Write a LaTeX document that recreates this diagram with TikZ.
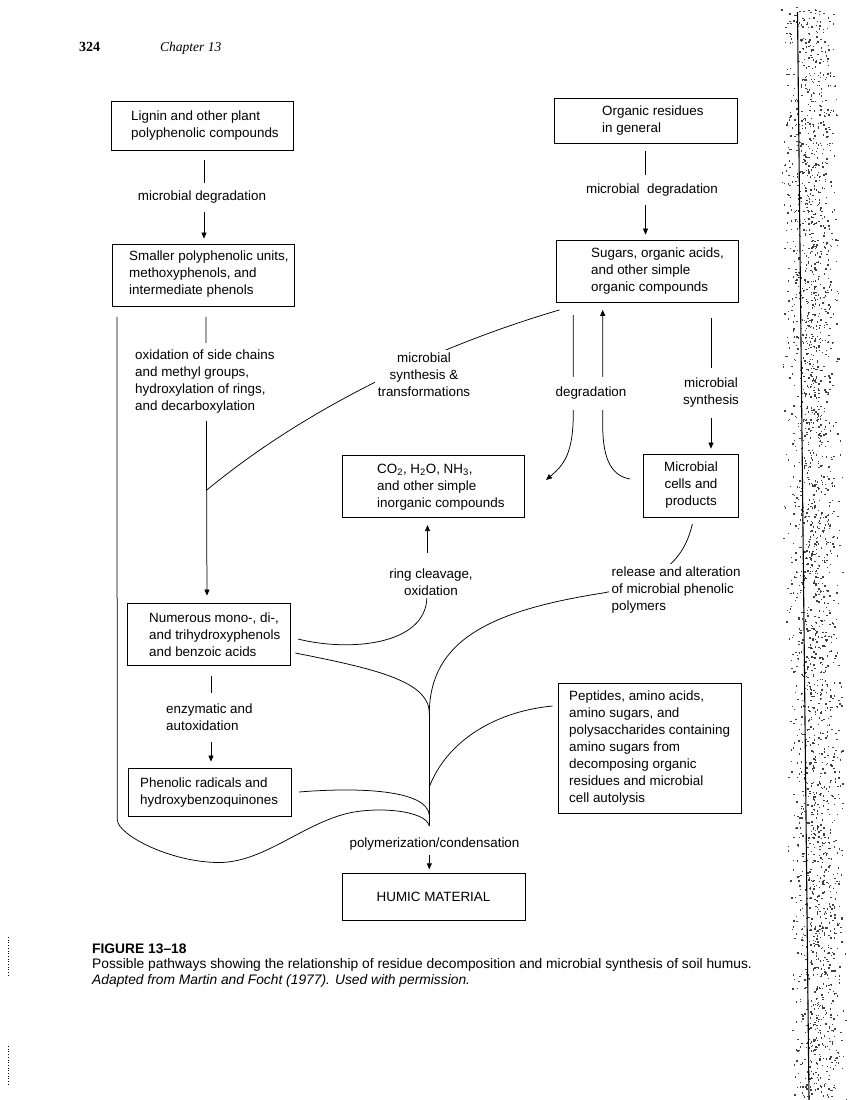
\documentclass[tikz,border=0pt]{standalone}
\usepackage{fontspec}
\setmainfont{Liberation Sans}
\newfontfamily\serifhead{Liberation Serif}
\usetikzlibrary{arrows.meta,backgrounds}
\newcommand\labfont{\fontsize{13.4}{17}\selectfont}
\newcommand\capfont{\fontsize{13.8}{15.5}\selectfont}
\begin{document}
\begin{tikzpicture}[x=1pt,y=-1pt,
  box/.style={draw, line width=0.8pt, inner sep=0pt},
  txt/.style={font=\labfont, align=left, inner sep=0pt, anchor=west},
  lbl/.style={font=\labfont, align=center, fill=white, inner xsep=3pt, inner ysep=0pt},
  lbll/.style={font=\labfont, align=left, fill=white, inner xsep=3pt, inner ysep=0pt, anchor=west},
  conn/.style={line width=0.75pt},
  arr/.style={conn, -{Triangle[length=6pt,width=5pt]}}]
\useasboundingbox (0,0) rectangle (853,1100);

% header
\node[anchor=base west, font=\serifhead\bfseries\fontsize{14}{16}\selectfont, inner sep=0pt] (pagenum) at (79,51) {324};
\node[anchor=base west, font=\serifhead\itshape\fontsize{13.5}{16}\selectfont, inner sep=0pt] (chap) at (160,51) {Chapter 13};

% boxes
\node[box, minimum width=182pt, minimum height=49pt] (lignin) at (202,125.5) {};
\node[txt] (lignint) at (131,125.5) {Lignin and other plant\\polyphenolic compounds};
\node[box, minimum width=183pt, minimum height=45pt] (organic) at (645.5,121) {};
\node[txt] (organict) at (602,120.5) {Organic residues\\in general};
\node[box, minimum width=182pt, minimum height=62pt] (smaller) at (203,275.5) {};
\node[txt] (smallert) at (129,274) {Smaller polyphenolic units,\\methoxyphenols, and\\intermediate phenols};
\node[box, minimum width=182pt, minimum height=62pt] (sugars) at (647.5,271.5) {};
\node[txt] (sugarst) at (591,271) {Sugars, organic acids,\\and other simple\\organic compounds};
\node[box, minimum width=182pt, minimum height=62pt] (co2) at (433,486.7) {};
\node[txt] (co2t) at (377,487.5) {CO\textsubscript{2}, H\textsubscript{2}O, NH\textsubscript{3},\\and other simple\\inorganic compounds};
\node[box, minimum width=95pt, minimum height=63pt, font=\labfont, align=center] (cells) at (691,485.5) {Microbial\\cells and\\products};
\node[box, minimum width=163pt, minimum height=62pt] (numerous) at (208.5,634) {};
\node[txt] (numeroust) at (149,634.5) {Numerous mono-, di-,\\and trihydroxyphenols\\and benzoic acids};
\node[box, minimum width=163pt, minimum height=48pt] (phenolic) at (210,792) {};
\node[txt] (phenolict) at (140,793) {Phenolic radicals and\\hydroxybenzoquinones};
\node[box, minimum width=183pt, minimum height=130pt] (peptides) at (649.7,748) {};
\node[txt] (peptidest) at (569,748) {Peptides, amino acids,\\amino sugars, and\\polysaccharides containing\\amino sugars from\\decomposing organic\\residues and microbial\\cell autolysis};
\node[box, minimum width=183pt, minimum height=47pt, font=\labfont] (humic) at (433.5,896.7) {HUMIC MATERIAL};

% labels
\node[lbl, minimum height=29pt] (mdeg1) at (202,197.5) {microbial degradation};
\node[lbl, minimum height=30pt] (mdeg2) at (652,190) {microbial\ \ degradation};
\node[lbll, minimum height=78pt] (oxid) at (132,382) {oxidation of side chains\\and methyl groups,\\hydroxylation of rings,\\and decarboxylation};
\node[lbl, inner sep=3pt] (mst) at (424,375.2) {microbial\\synthesis \&\\transformations};
\node[lbl, minimum height=33pt] (deg) at (591,393.5) {degradation};
\node[lbl, minimum height=50pt] (msyn) at (711,393) {microbial\\synthesis};
\node[font=\labfont, align=center, inner sep=0pt] (ring) at (431,582) {ring cleavage,\\oxidation};
\node[lbll, inner ysep=3pt] (release) at (608.5,590.2) {release and alteration\\of microbial phenolic\\polymers};
\node[lbll, minimum height=49pt] (enz) at (163,717) {enzymatic and\\autoxidation};
\node[font=\labfont, inner sep=0pt] (poly) at (434.5,844) {polymerization/condensation};

% free ends / junctions
\coordinate (trunktop) at (429.3,713);
\coordinate (tpep) at (429.3,787);
\coordinate (tphen) at (429.3,815);
\coordinate (tbot) at (429.3,826);
\coordinate (mstB) at (206.8,490);
\coordinate (degL) at (546,480);
\coordinate (degR) at (630,479);
\coordinate (relA) at (603,593);

\begin{scope}[on background layer]
\draw[arr, shorten <=10pt, shorten >=5.5pt] ([xshift=2pt]lignin.south) -- ([xshift=1pt]smaller.north);
\draw[arr, shorten <=7pt, shorten >=5.5pt] (organic.south) -- ([xshift=-2pt]sugars.north);
\draw[arr, shorten <=10pt, shorten >=7pt] ([xshift=3pt]smaller.south) -- ([xshift=-1.5pt]numerous.north);
\draw[arr, shorten <=11pt, shorten >=6pt] ([xshift=2.5pt]numerous.south) -- ([xshift=1pt]phenolic.north);
\draw[arr, shorten <=15pt, shorten >=5pt] ([xshift=63.5pt]sugars.south) -- ([xshift=20pt]cells.north);
\draw[arr, shorten <=12pt] ([xshift=-74.2pt]sugars.south) -- (573.3,412) .. controls (573.3,452) and (565,464) .. (degL);
\draw[arr, shorten >=7pt] (degR) .. controls (613,476) and (602.7,462) .. (602.7,425) -- ([xshift=-44.8pt]sugars.south);
\draw[conn] ([shift={(3.5pt,-7pt)}]sugars.south west) .. controls (440,345) and (310,405) .. (mstB);
\draw[conn, shorten >=2.5pt] ([shift={(7.5pt,-5pt)}]numerous.east) .. controls (350,652) and (425,645) .. ([xshift=-4pt]ring.south);
\draw[arr, shorten <=15.5pt, shorten >=7pt] ([xshift=-3.5pt]ring.north) -- ([xshift=-5.5pt]co2.south);
\draw[conn] ([shift={(5pt,-19pt)}]numerous.east) .. controls (370,668) and (429.3,680) .. (trunktop);
\draw[conn, shorten <=7pt] ([xshift=3pt]cells.south) .. controls (686,550) and (672,580) .. (relA) .. controls (487,611) and (430,642) .. (trunktop);
\draw[conn] ([shift={(-5.3pt,42pt)}]peptides.west) .. controls (490,712) and (445,745) .. (tpep);
\draw[conn] ([xshift=7pt]phenolic.east) .. controls (360,787) and (427,790) .. (tphen);
\draw[conn] ([shift={(5.3pt,-10pt)}]smaller.south west) -- (117.3,820) .. controls (118,835) and (170,862) .. (218,862.5) .. controls (262,863) and (300,826) .. (345,814) .. controls (375,806) and (426,810) .. (tbot);
\draw[conn] (trunktop) -- (tbot);
\draw[arr, shorten <=4.5pt, shorten >=3.5pt] (tbot |- poly.south) -- (tbot |- humic.north);
\end{scope}

% caption
\node[anchor=base west, font=\bfseries\capfont, inner sep=0pt] (cap1) at (92,953) {FIGURE 13–18};
\node[anchor=base west, font=\capfont, inner sep=0pt] (cap2) at (92,968.5) {Possible pathways showing the relationship of residue decomposition and microbial synthesis of soil humus.};
\node[anchor=base west, font=\itshape\capfont, inner sep=0pt] (cap3) at (92,984) {Adapted from Martin and Focht (1977). Used with permission.};

% scan marks
\draw[dotted, line width=0.7pt] (8,937) -- (8,976);
\draw[dotted, line width=0.7pt] (8,1046) -- (8,1086);
\pgfmathsetseed{4711}
\foreach \k in {1,...,2400}{
  \pgfmathsetmacro\py{6+1094*rnd}
  \pgfmathsetmacro\px{800+0.01*\py+(rnd+rnd-0.75)*30}
  \fill[black!75] (\px,\py) rectangle +(1.4,1.4);
}
\draw[line width=1.1pt] (797.5,12) -- (809,1100);
\end{tikzpicture}
\end{document}
